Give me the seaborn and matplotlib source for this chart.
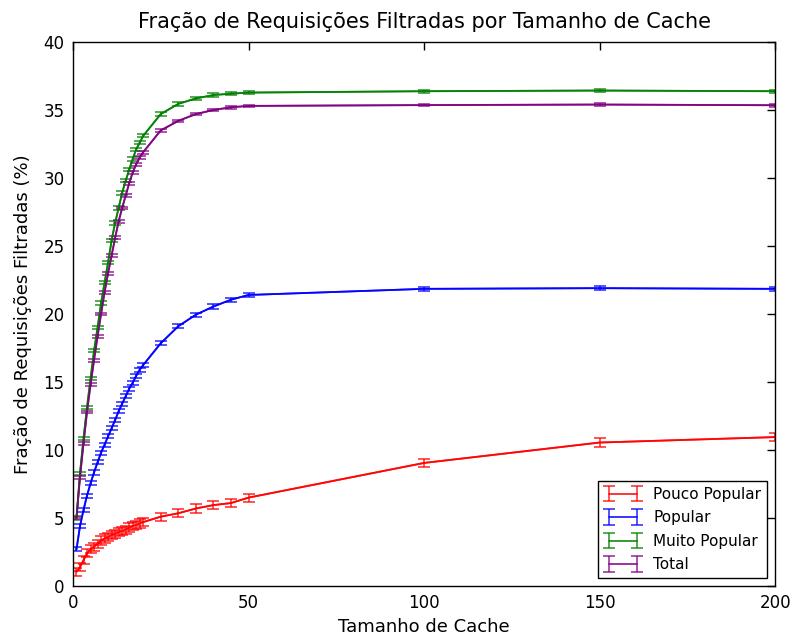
import numpy as np
import pandas as pd
import matplotlib
matplotlib.use("Agg")
import matplotlib.pyplot as plt
import seaborn as sns

cache_sizes = list(range(1, 21)) + [25, 30, 35, 40, 45, 50, 100, 150, 200]

pouco_popular = [1.05, 1.4, 1.9, 2.4, 2.7, 2.9, 3.1, 3.35, 3.5, 3.6,
                 3.75, 3.85, 3.95, 4.05, 4.15, 4.3, 4.4, 4.5, 4.6, 4.7,
                 5.1, 5.35, 5.7, 5.95, 6.1, 6.5, 9.05, 10.55, 10.95]
popular = [2.7, 4.4, 5.6, 6.65, 7.55, 8.35, 9.1, 9.8, 10.4, 11.0,
           11.6, 12.2, 12.85, 13.4, 13.95, 14.5, 14.95, 15.45, 15.9, 16.25,
           17.85, 19.1, 19.95, 20.55, 21.05, 21.4, 21.85, 21.9, 21.85]
muito_popular = [5.0, 8.3, 10.85, 13.15, 15.25, 17.3, 19.0, 20.8, 22.3, 23.8,
                 25.4, 26.7, 27.8, 28.9, 29.8, 30.6, 31.4, 32.1, 32.6, 33.1,
                 34.7, 35.45, 35.85, 36.1, 36.2, 36.28, 36.38, 36.43, 36.38]
total = [5.0, 8.0, 10.5, 12.8, 14.8, 16.6, 18.35, 20.0, 21.6, 23.0,
         24.3, 25.6, 26.8, 27.8, 28.7, 29.6, 30.4, 31.0, 31.5, 31.9,
         33.5, 34.2, 34.7, 35.0, 35.2, 35.3, 35.36, 35.4, 35.35]

err_pouco = [0.3] * len(cache_sizes)
err_popular = [0.15] * len(cache_sizes)
err_muito = [0.12] * len(cache_sizes)
err_total = [0.1] * len(cache_sizes)

series_names = ["Pouco Popular", "Popular", "Muito Popular", "Total"]
series_values = [pouco_popular, popular, muito_popular, total]
series_errs = [err_pouco, err_popular, err_muito, err_total]
series_colors = ["#ff0000", "#0000ff", "#008000", "#800080"]

title = "Fração de Requisições Filtradas por Tamanho de Cache"
xlabel = "Tamanho de Cache"
ylabel = "Fração de Requisições Filtradas (%)"

rows = []
for name, vals, errs in zip(series_names, series_values, series_errs):
    for x, v, e in zip(cache_sizes, vals, errs):
        rows.append({"cache": x, "frac": v, "err": e, "serie": name})
df = pd.DataFrame(rows)

sns.set_style("white")
plt.rcParams["font.family"] = ["DejaVu Sans"]
plt.rcParams["text.color"] = "black"
plt.rcParams["axes.labelcolor"] = "black"

fig = plt.figure(figsize=(7.95, 6.43), dpi=100)
ax = fig.add_axes([0.0918, 0.0886, 0.8832, 0.8461])

palette = dict(zip(series_names, series_colors))
sns.lineplot(data=df, x="cache", y="frac", hue="serie", palette=palette,
             hue_order=series_names, ax=ax, legend=False, linewidth=1.3,
             alpha=0.85, errorbar=None)

for name in series_names:
    sub = df[df["serie"] == name]
    ax.errorbar(sub["cache"], sub["frac"], yerr=sub["err"], fmt="-",
                color=palette[name], alpha=0.85, capsize=4, elinewidth=1.1,
                capthick=1.1, linewidth=1.3, label=name)

ax.set_xlim(0, 200)
ax.set_ylim(0, 40)
ax.set_xticks([0, 50, 100, 150, 200])
ax.set_yticks(range(0, 41, 5))
ax.tick_params(direction="in", length=6, width=1, top=True, right=True,
               labelsize=12, colors="black", pad=6)
for s in ax.spines.values():
    s.set_visible(True)
    s.set_color("black")
    s.set_linewidth(1.0)

ax.set_title(title, fontsize=15, pad=10, color="black")
ax.set_xlabel(xlabel, fontsize=13, labelpad=4, color="black")
ax.set_ylabel(ylabel, fontsize=13, labelpad=8, color="black")

leg = ax.legend(loc="lower right", numpoints=2, fontsize=11, fancybox=False,
                frameon=True, framealpha=1, edgecolor="black",
                handlelength=2.4, borderpad=0.4, labelspacing=0.55)
leg.get_frame().set_linewidth(1.0)

fig.savefig("out.png", dpi=100, facecolor="white")
